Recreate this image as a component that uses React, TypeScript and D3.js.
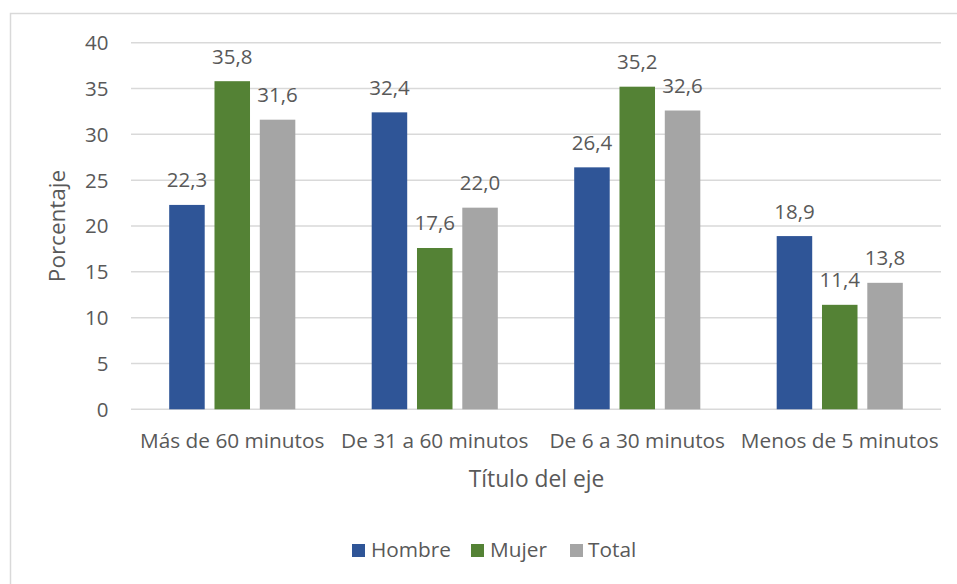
import React from "react";
import * as d3 from "d3";

const categories = ["Más de 60 minutos", "De 31 a 60 minutos", "De 6 a 30 minutos", "Menos de 5 minutos"];
const seriesNames = ["Hombre", "Mujer", "Total"];
const hombre = [22.3, 32.4, 26.4, 18.9];
const mujer = [35.8, 17.6, 35.2, 11.4];
const total = [31.6, 22.0, 32.6, 13.8];
const yTicks = [0, 5, 10, 15, 20, 25, 30, 35, 40];
const colors = ["#2F5597", "#548235", "#A5A5A5"];

const W = 957;
const H = 584;
const FONT = "'Open Sans', sans-serif";
const TEXT = "#595959";

export default function App() {
  const seriesValues = [hombre, mujer, total];
  const x0 = d3.scaleBand<string>().domain(categories).range([131, 941]).paddingInner(0).paddingOuter(0);
  const x1 = d3
    .scaleBand<string>()
    .domain(seriesNames)
    .range([0, x0.bandwidth()])
    .paddingInner(0.216)
    .paddingOuter(0.843);
  const y = d3.scaleLinear().domain([0, 40]).range([409.3, 42.7]);
  const fmt = (v: number) => d3.format(".1f")(v).replace(".", ",");

  const legendItems = [
    { name: "Hombre", sq: 352, tx: 371 },
    { name: "Mujer", sq: 471, tx: 490 },
    { name: "Total", sq: 570, tx: 588 },
  ];

  return (
    <svg
      width={W}
      height={H}
      style={{ position: "absolute", left: 0, top: 0, background: "#fff" }}
      fontFamily={FONT}
    >
      <rect x={10.5} y={13.5} width={960} height={600} fill="#fff" stroke="#D9D9D9" strokeWidth={1.5} />
      {yTicks.map((t) => (
        <g key={t}>
          <line x1={131} x2={941} y1={y(t)} y2={y(t)} stroke="#D9D9D9" strokeWidth={1.5} />
          <text x={108.5} y={y(t)} dy="0.36em" textAnchor="end" fontSize={20.5} fill={TEXT}>
            {t}
          </text>
        </g>
      ))}
      {categories.map((c, i) => (
        <g key={c} transform={`translate(${x0(c)},0)`}>
          {seriesNames.map((s, j) => {
            const v = seriesValues[j][i];
            const bx = x1(s)!;
            return (
              <g key={s}>
                <rect x={bx} y={y(v)} width={x1.bandwidth()} height={y(0) - y(v)} fill={colors[j]} />
                <text
                  x={bx + x1.bandwidth() / 2}
                  y={y(v) - 17.5}
                  textAnchor="middle"
                  fontSize={20.5}
                  fill={TEXT}
                >
                  {fmt(v)}
                </text>
              </g>
            );
          })}
          <text x={x0.bandwidth() / 2} y={448.3} textAnchor="middle" fontSize={20.8} fill={TEXT}>
            {c}
          </text>
        </g>
      ))}
      <text
        transform={`translate(65,${(y(0) + y(40)) / 2}) rotate(-90)`}
        textAnchor="middle"
        fontSize={22.5}
        fill={TEXT}
      >
        Porcentaje
      </text>
      <text x={536.5} y={487.3} textAnchor="middle" fontSize={22.8} fill={TEXT}>
        Título del eje
      </text>
      {legendItems.map((l, i) => (
        <g key={l.name}>
          <rect x={l.sq} y={544} width={13} height={13} fill={colors[i]} />
          <text x={l.tx} y={557.3} fontSize={20.8} fill={TEXT}>
            {l.name}
          </text>
        </g>
      ))}
    </svg>
  );
}
